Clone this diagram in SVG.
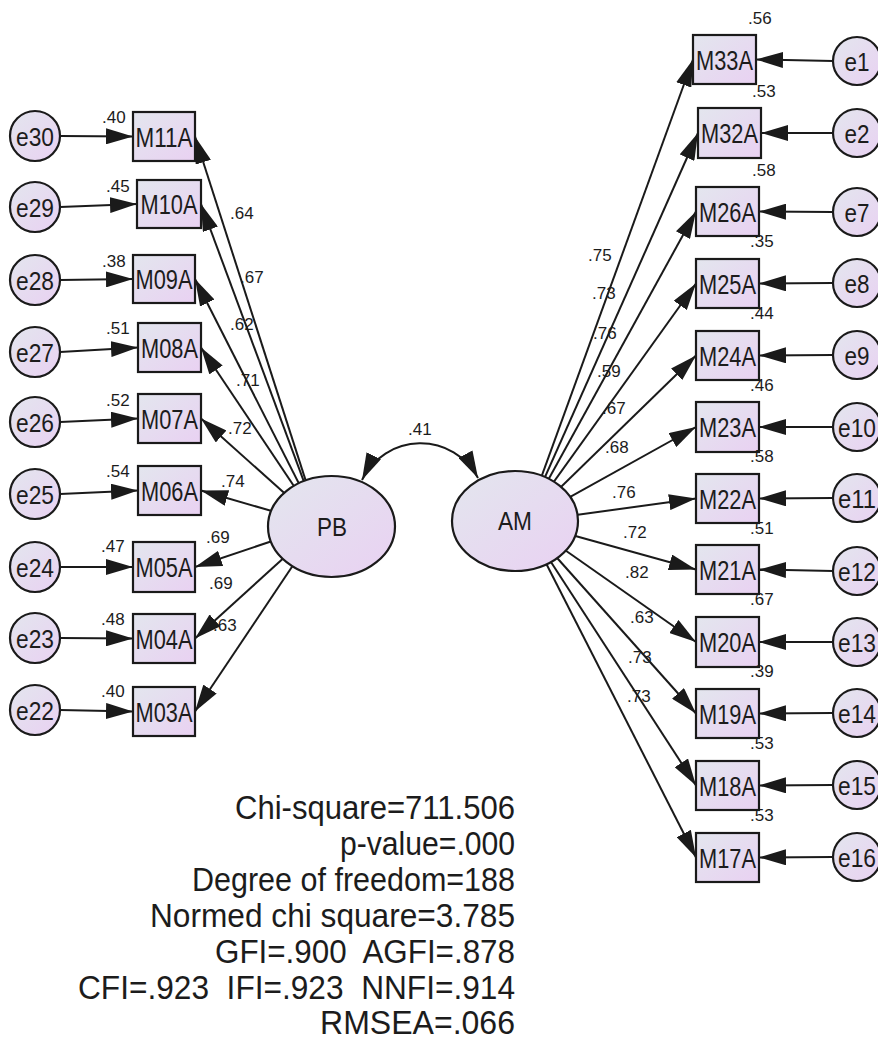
<svg xmlns="http://www.w3.org/2000/svg" width="878" height="1041" viewBox="0 0 878 1041">
<defs>
<linearGradient id="fill" x1="0" y1="0" x2="1" y2="1">
<stop offset="0" stop-color="#e3e6ee"/>
<stop offset="1" stop-color="#e9d1f2"/>
</linearGradient>
<marker id="ah" markerUnits="userSpaceOnUse" viewBox="0 0 27 16" markerWidth="27" markerHeight="16" refX="27" refY="8" orient="auto-start-reverse">
<path d="M0,0 L27,8 L0,16 z" fill="#1a1a1a"/>
</marker>
<style>
.n rect,.n circle,.n ellipse{fill:url(#fill);stroke:#1a1a1a;stroke-width:2.2}
.c line,.c path{stroke:#1a1a1a;stroke-width:2;fill:none;marker-end:url(#ah)}
text{font-family:"Liberation Sans",Arial,sans-serif;fill:#1c1c1c}
.bl{font-size:27px;text-anchor:middle}
.el{font-size:25px;text-anchor:middle}
.lv{font-size:25px;text-anchor:middle}
.s{font-size:17px}
.st{font-size:33px;white-space:pre}
</style>
</defs>
<rect width="878" height="1041" fill="#ffffff"/>

<g id="connectors" class="c">
<!-- left loadings -->
<line x1="320" y1="525" x2="195" y2="136.5"/>
<line x1="320" y1="525" x2="201" y2="204"/>
<line x1="320" y1="525" x2="195" y2="279"/>
<line x1="320" y1="525" x2="201" y2="347.5"/>
<line x1="320" y1="525" x2="201" y2="418.5"/>
<line x1="320" y1="525" x2="201" y2="490.5"/>
<line x1="320" y1="525" x2="195" y2="567"/>
<line x1="320" y1="525" x2="195" y2="638.5"/>
<line x1="320" y1="525" x2="195" y2="711.5"/>
<!-- right loadings -->
<line x1="525" y1="522" x2="693" y2="59.5"/>
<line x1="525" y1="522" x2="698" y2="133"/>
<line x1="525" y1="522" x2="696" y2="211.5"/>
<line x1="525" y1="522" x2="696" y2="283.5"/>
<line x1="525" y1="522" x2="696" y2="355.5"/>
<line x1="525" y1="522" x2="696" y2="427"/>
<line x1="525" y1="522" x2="696" y2="498.5"/>
<line x1="525" y1="522" x2="696" y2="569.5"/>
<line x1="525" y1="522" x2="696" y2="642"/>
<line x1="525" y1="522" x2="696" y2="713.5"/>
<line x1="525" y1="522" x2="696" y2="785.5"/>
<line x1="525" y1="522" x2="696" y2="857.5"/>
<!-- left errors -->
<line x1="60" y1="136" x2="133" y2="136.5"/>
<line x1="60" y1="207" x2="137" y2="204"/>
<line x1="60" y1="280" x2="133" y2="279"/>
<line x1="60" y1="352" x2="138" y2="347.5"/>
<line x1="60" y1="422" x2="138" y2="418.5"/>
<line x1="60" y1="494" x2="138" y2="490.5"/>
<line x1="60" y1="567" x2="133" y2="567"/>
<line x1="60" y1="638" x2="133" y2="638.5"/>
<line x1="60" y1="710" x2="133" y2="711.5"/>
<!-- right errors -->
<line x1="833" y1="61" x2="756" y2="59.5"/>
<line x1="833" y1="133" x2="761" y2="133"/>
<line x1="833" y1="212" x2="759" y2="211.5"/>
<line x1="833" y1="283" x2="759" y2="283.5"/>
<line x1="833" y1="355" x2="759" y2="355.5"/>
<line x1="833" y1="427" x2="759" y2="427"/>
<line x1="833" y1="498" x2="759" y2="498.5"/>
<line x1="833" y1="571" x2="759" y2="569.5"/>
<line x1="833" y1="642" x2="759" y2="642"/>
<line x1="833" y1="713" x2="759" y2="713.5"/>
<line x1="833" y1="785" x2="759" y2="785.5"/>
<line x1="833" y1="857" x2="759" y2="857.5"/>
<!-- covariance -->
<path d="M362,480 A65,65 0 0 1 478,478" style="marker-start:url(#ah)"/>
</g>

<g id="PB" class="n"><ellipse cx="331.5" cy="526.5" rx="63.5" ry="50.5"/><text class="lv" x="332" y="536" textLength="30" lengthAdjust="spacingAndGlyphs">PB</text></g>
<g id="AM" class="n"><ellipse cx="515" cy="521" rx="63" ry="50"/><text class="lv" x="515" y="530" textLength="34" lengthAdjust="spacingAndGlyphs">AM</text></g>

<g id="M11A" class="n"><rect x="133" y="112" width="62" height="49"/><text class="bl" x="164" y="146.5" textLength="57" lengthAdjust="spacingAndGlyphs">M11A</text></g>
<g id="M10A" class="n"><rect x="137" y="180" width="64" height="48"/><text class="bl" x="169" y="214" textLength="57" lengthAdjust="spacingAndGlyphs">M10A</text></g>
<g id="M09A" class="n"><rect x="133" y="255" width="62" height="48"/><text class="bl" x="164" y="289" textLength="57" lengthAdjust="spacingAndGlyphs">M09A</text></g>
<g id="M08A" class="n"><rect x="138" y="323" width="63" height="49"/><text class="bl" x="169.5" y="357.5" textLength="57" lengthAdjust="spacingAndGlyphs">M08A</text></g>
<g id="M07A" class="n"><rect x="138" y="394" width="63" height="49"/><text class="bl" x="169.5" y="428.5" textLength="57" lengthAdjust="spacingAndGlyphs">M07A</text></g>
<g id="M06A" class="n"><rect x="138" y="466" width="63" height="49"/><text class="bl" x="169.5" y="500.5" textLength="57" lengthAdjust="spacingAndGlyphs">M06A</text></g>
<g id="M05A" class="n"><rect x="133" y="542" width="62" height="50"/><text class="bl" x="164" y="577" textLength="57" lengthAdjust="spacingAndGlyphs">M05A</text></g>
<g id="M04A" class="n"><rect x="133" y="614" width="62" height="49"/><text class="bl" x="164" y="648.5" textLength="57" lengthAdjust="spacingAndGlyphs">M04A</text></g>
<g id="M03A" class="n"><rect x="133" y="687" width="62" height="49"/><text class="bl" x="164" y="721.5" textLength="57" lengthAdjust="spacingAndGlyphs">M03A</text></g>

<g id="M33A" class="n"><rect x="693" y="35" width="63" height="49"/><text class="bl" x="724.5" y="69.5" textLength="57" lengthAdjust="spacingAndGlyphs">M33A</text></g>
<g id="M32A" class="n"><rect x="698" y="108" width="63" height="50"/><text class="bl" x="729.5" y="143" textLength="57" lengthAdjust="spacingAndGlyphs">M32A</text></g>
<g id="M26A" class="n"><rect x="696" y="187" width="63" height="49"/><text class="bl" x="727.5" y="221.5" textLength="57" lengthAdjust="spacingAndGlyphs">M26A</text></g>
<g id="M25A" class="n"><rect x="696" y="259" width="63" height="49"/><text class="bl" x="727.5" y="293.5" textLength="57" lengthAdjust="spacingAndGlyphs">M25A</text></g>
<g id="M24A" class="n"><rect x="696" y="331" width="63" height="49"/><text class="bl" x="727.5" y="365.5" textLength="57" lengthAdjust="spacingAndGlyphs">M24A</text></g>
<g id="M23A" class="n"><rect x="696" y="402" width="63" height="50"/><text class="bl" x="727.5" y="437" textLength="57" lengthAdjust="spacingAndGlyphs">M23A</text></g>
<g id="M22A" class="n"><rect x="696" y="474" width="63" height="49"/><text class="bl" x="727.5" y="508.5" textLength="57" lengthAdjust="spacingAndGlyphs">M22A</text></g>
<g id="M21A" class="n"><rect x="696" y="545" width="63" height="49"/><text class="bl" x="727.5" y="579.5" textLength="57" lengthAdjust="spacingAndGlyphs">M21A</text></g>
<g id="M20A" class="n"><rect x="696" y="617" width="63" height="50"/><text class="bl" x="727.5" y="652" textLength="57" lengthAdjust="spacingAndGlyphs">M20A</text></g>
<g id="M19A" class="n"><rect x="696" y="689" width="63" height="49"/><text class="bl" x="727.5" y="723.5" textLength="57" lengthAdjust="spacingAndGlyphs">M19A</text></g>
<g id="M18A" class="n"><rect x="696" y="761" width="63" height="49"/><text class="bl" x="727.5" y="795.5" textLength="57" lengthAdjust="spacingAndGlyphs">M18A</text></g>
<g id="M17A" class="n"><rect x="696" y="833" width="63" height="49"/><text class="bl" x="727.5" y="867.5" textLength="57" lengthAdjust="spacingAndGlyphs">M17A</text></g>

<g id="e30" class="n"><circle cx="35" cy="136" r="25"/><text class="el" x="35" y="145.5" textLength="38" lengthAdjust="spacingAndGlyphs">e30</text></g>
<g id="e29" class="n"><circle cx="35" cy="207" r="25"/><text class="el" x="35" y="216.5" textLength="38" lengthAdjust="spacingAndGlyphs">e29</text></g>
<g id="e28" class="n"><circle cx="35" cy="280" r="25"/><text class="el" x="35" y="289.5" textLength="38" lengthAdjust="spacingAndGlyphs">e28</text></g>
<g id="e27" class="n"><circle cx="35" cy="352" r="25"/><text class="el" x="35" y="361.5" textLength="38" lengthAdjust="spacingAndGlyphs">e27</text></g>
<g id="e26" class="n"><circle cx="35" cy="422" r="25"/><text class="el" x="35" y="431.5" textLength="38" lengthAdjust="spacingAndGlyphs">e26</text></g>
<g id="e25" class="n"><circle cx="35" cy="494" r="25"/><text class="el" x="35" y="503.5" textLength="38" lengthAdjust="spacingAndGlyphs">e25</text></g>
<g id="e24" class="n"><circle cx="35" cy="567" r="25"/><text class="el" x="35" y="576.5" textLength="38" lengthAdjust="spacingAndGlyphs">e24</text></g>
<g id="e23" class="n"><circle cx="35" cy="638" r="25"/><text class="el" x="35" y="647.5" textLength="38" lengthAdjust="spacingAndGlyphs">e23</text></g>
<g id="e22" class="n"><circle cx="35" cy="710" r="25"/><text class="el" x="35" y="719.5" textLength="38" lengthAdjust="spacingAndGlyphs">e22</text></g>

<g id="e1" class="n"><circle cx="857" cy="61" r="24"/><text class="el" x="857" y="70.5" textLength="25" lengthAdjust="spacingAndGlyphs">e1</text></g>
<g id="e2" class="n"><circle cx="857" cy="133" r="24"/><text class="el" x="857" y="142.5" textLength="25" lengthAdjust="spacingAndGlyphs">e2</text></g>
<g id="e7" class="n"><circle cx="857" cy="212" r="24"/><text class="el" x="857" y="221.5" textLength="25" lengthAdjust="spacingAndGlyphs">e7</text></g>
<g id="e8" class="n"><circle cx="857" cy="283" r="24"/><text class="el" x="857" y="292.5" textLength="25" lengthAdjust="spacingAndGlyphs">e8</text></g>
<g id="e9" class="n"><circle cx="857" cy="355" r="24"/><text class="el" x="857" y="364.5" textLength="25" lengthAdjust="spacingAndGlyphs">e9</text></g>
<g id="e10" class="n"><circle cx="857" cy="427" r="24"/><text class="el" x="857" y="436.5" textLength="38" lengthAdjust="spacingAndGlyphs">e10</text></g>
<g id="e11" class="n"><circle cx="857" cy="498" r="24"/><text class="el" x="857" y="507.5" textLength="38" lengthAdjust="spacingAndGlyphs">e11</text></g>
<g id="e12" class="n"><circle cx="857" cy="571" r="24"/><text class="el" x="857" y="580.5" textLength="38" lengthAdjust="spacingAndGlyphs">e12</text></g>
<g id="e13" class="n"><circle cx="857" cy="642" r="24"/><text class="el" x="857" y="651.5" textLength="38" lengthAdjust="spacingAndGlyphs">e13</text></g>
<g id="e14" class="n"><circle cx="857" cy="713" r="24"/><text class="el" x="857" y="722.5" textLength="38" lengthAdjust="spacingAndGlyphs">e14</text></g>
<g id="e15" class="n"><circle cx="857" cy="785" r="24"/><text class="el" x="857" y="794.5" textLength="38" lengthAdjust="spacingAndGlyphs">e15</text></g>
<g id="e16" class="n"><circle cx="857" cy="857" r="24"/><text class="el" x="857" y="866.5" textLength="38" lengthAdjust="spacingAndGlyphs">e16</text></g>

<g id="labels" class="s">
<!-- covariance -->
<text class="s" x="408" y="435">.41</text>
<!-- left variances -->
<text class="s" x="102" y="123">.40</text>
<text class="s" x="106" y="192">.45</text>
<text class="s" x="102" y="267">.38</text>
<text class="s" x="106" y="334">.51</text>
<text class="s" x="106" y="406">.52</text>
<text class="s" x="106" y="477">.54</text>
<text class="s" x="101" y="552">.47</text>
<text class="s" x="101" y="625">.48</text>
<text class="s" x="101" y="697">.40</text>
<!-- left loadings -->
<text class="s" x="230" y="219">.64</text>
<text class="s" x="240" y="283">.67</text>
<text class="s" x="230" y="330">.62</text>
<text class="s" x="236" y="386">.71</text>
<text class="s" x="228" y="434">.72</text>
<text class="s" x="221" y="487">.74</text>
<text class="s" x="206" y="543">.69</text>
<text class="s" x="209" y="589">.69</text>
<text class="s" x="213" y="631">.63</text>
<!-- right variances -->
<text class="s" x="748" y="24">.56</text>
<text class="s" x="752" y="97">.53</text>
<text class="s" x="752" y="176">.58</text>
<text class="s" x="750" y="247">.35</text>
<text class="s" x="750" y="319">.44</text>
<text class="s" x="750" y="391">.46</text>
<text class="s" x="750" y="462">.58</text>
<text class="s" x="750" y="534">.51</text>
<text class="s" x="750" y="605">.67</text>
<text class="s" x="750" y="677">.39</text>
<text class="s" x="750" y="749">.53</text>
<text class="s" x="750" y="821">.53</text>
<!-- right loadings -->
<text class="s" x="588" y="261">.75</text>
<text class="s" x="592" y="299">.73</text>
<text class="s" x="593" y="339">.76</text>
<text class="s" x="597" y="377">.59</text>
<text class="s" x="602" y="414">.67</text>
<text class="s" x="605" y="453">.68</text>
<text class="s" x="612" y="498">.76</text>
<text class="s" x="623" y="538">.72</text>
<text class="s" x="625" y="578">.82</text>
<text class="s" x="630" y="623">.63</text>
<text class="s" x="628" y="663">.73</text>
<text class="s" x="627" y="702">.73</text>
</g>

<g id="fit-stats">
<text class="st" x="235" y="819" textLength="280" lengthAdjust="spacingAndGlyphs">Chi-square=711.506</text>
<text class="st" x="340" y="855" textLength="175" lengthAdjust="spacingAndGlyphs">p-value=.000</text>
<text class="st" x="192" y="891" textLength="323" lengthAdjust="spacingAndGlyphs">Degree of freedom=188</text>
<text class="st" x="150" y="927" textLength="365" lengthAdjust="spacingAndGlyphs">Normed chi square=3.785</text>
<text class="st" x="215" y="963" textLength="300" lengthAdjust="spacingAndGlyphs">GFI=.900  AGFI=.878</text>
<text class="st" x="78" y="999" textLength="437" lengthAdjust="spacingAndGlyphs">CFI=.923  IFI=.923  NNFI=.914</text>
<text class="st" x="320" y="1034" textLength="195" lengthAdjust="spacingAndGlyphs">RMSEA=.066</text>
</g>
</svg>
